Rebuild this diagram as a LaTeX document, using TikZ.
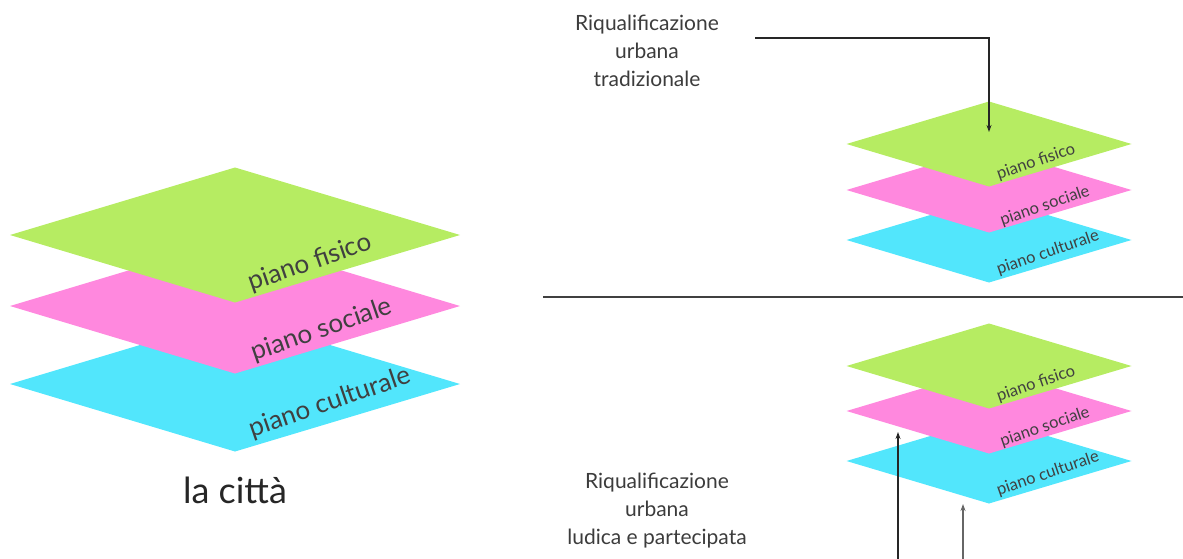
\documentclass[tikz,border=0pt]{standalone}
\usepackage{fontspec}
\setmainfont{Lato}
\usetikzlibrary{shapes.geometric,arrows.meta,calc}
\definecolor{fisico}{RGB}{182,236,98}
\definecolor{sociale}{RGB}{255,136,222}
\definecolor{culturale}{RGB}{82,230,252}
\definecolor{ink}{RGB}{60,60,60}
\begin{document}
\begin{tikzpicture}[x=1pt,y=-1pt,
  plane/.style={diamond,draw=none,inner sep=0pt,outer sep=0pt},
  bigplane/.style={plane,minimum width=450pt,minimum height=135pt},
  smallplane/.style={plane,minimum width=285pt,minimum height=85pt},
  planelabel/.style={rotate=19,inner sep=0pt,text=black!75},
  biglabel/.style={planelabel,font=\fontsize{26}{30}\selectfont},
  smalllabel/.style={planelabel,font=\fontsize{16.5}{20}\selectfont},
  caption/.style={align=center,text=ink,font=\fontsize{21}{28}\selectfont},
  arrow/.style={line width=1.3pt,draw=black!85,-{Stealth[length=7pt,width=5pt]}},
  rule/.style={line width=1.5pt,draw=black!75}]
\useasboundingbox (0,0) rectangle (1183,559);

% the city: three stacked planes
\node[bigplane,fill=culturale] (Lcul) at (235,384) {};
\node[bigplane,fill=sociale]   (Lsoc) at (235,306) {};
\node[bigplane,fill=fisico]    (Lfis) at (235,235) {};
\node[biglabel] (Lfist) at (310,263) {piano fisico};
\node[biglabel] (Lsoct) at (322,330) {piano sociale};
\node[biglabel] (Lcult) at (330,403) {piano culturale};
\node[text=black!85,font=\fontsize{36}{40}\selectfont,anchor=base] (citta) at (235,503) {la città};

% traditional regeneration
\node[smallplane,fill=culturale] (Tcul) at (989,240) {};
\node[smallplane,fill=sociale]   (Tsoc) at (989,190) {};
\node[smallplane,fill=fisico]    (Tfis) at (989,144) {};
\node[smalllabel] (Tfist) at (1036,162) {piano fisico};
\node[smalllabel] (Tsoct) at (1045,206) {piano sociale};
\node[smalllabel] (Tcult) at (1048,253) {piano culturale};
\node[caption] (trad) at (647,51) {Riqualificazione\\urbana\\tradizionale};
\coordinate (tradstart) at (755,38);
\coordinate (tradtip) at (989,132);
\draw[arrow] (tradstart) -| (tradtip);

% separator
\coordinate (sepL) at (543,297);
\coordinate (sepR) at (1183,297);
\draw[rule] (sepL) -- (sepR);

% playful, participatory regeneration
\node[smallplane,fill=culturale] (Pcul) at (989,461) {};
\node[smallplane,fill=sociale]   (Psoc) at (989,411) {};
\node[smallplane,fill=fisico]    (Pfis) at (989,366) {};
\node[smalllabel] (Pfist) at (1036,384) {piano fisico};
\node[smalllabel] (Psoct) at (1045,427) {piano sociale};
\node[smalllabel] (Pcult) at (1048,474) {piano culturale};
\node[caption] (ludica) at (657,511) {Riqualificazione\\urbana\\ludica e partecipata};
\coordinate (up1) at (898,559);
\coordinate (up1tip) at (898,432);
\coordinate (up2) at (963,559);
\coordinate (up2tip) at (963,504);
\draw[arrow] (up1) -- (up1tip);
\draw[arrow,line width=1.5pt,draw=black!60] (up2) -- (up2tip);
\end{tikzpicture}
\end{document}
